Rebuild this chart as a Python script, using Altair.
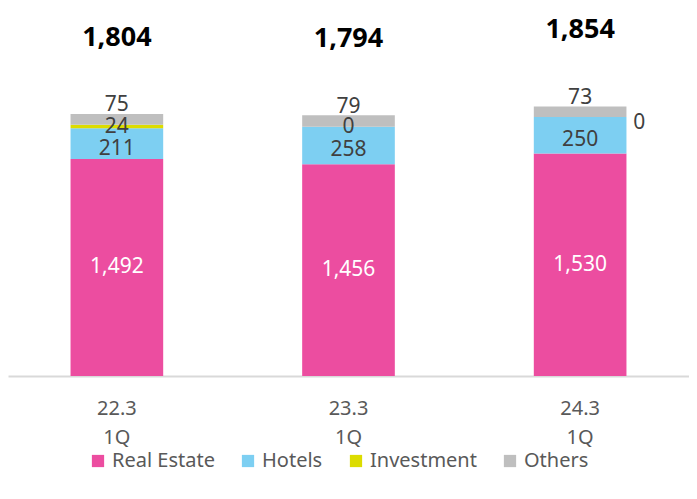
import altair as alt
import pandas as pd

categories = ["22.3 1Q", "23.3 1Q", "24.3 1Q"]
series = ["Real Estate", "Hotels", "Investment", "Others"]
real_estate = [1492, 1456, 1530]
hotels = [211, 258, 250]
investment = [24, 0, 0]
others = [75, 79, 73]
totals = [1804, 1794, 1854]
colors = ["#EC4DA0", "#7DCFF2", "#DCDC00", "#BFBFBF"]

values = {"Real Estate": real_estate, "Hotels": hotels,
          "Investment": investment, "Others": others}
rows = []
for i, c in enumerate(categories):
    cum = 0
    for j, s in enumerate(series):
        v = values[s][i]
        rows.append({"cat": c, "series": s, "value": v, "y0": cum,
                     "y1": cum + v, "mid": cum + v / 2, "order": j})
        cum += v
df = pd.DataFrame(rows)
tot = pd.DataFrame({"cat": categories, "total": totals})

FONT = "Noto Sans"
x_enc = alt.X("cat:N", sort=categories, title=None,
              scale=alt.Scale(paddingInner=0.6, paddingOuter=0.27),
              axis=alt.Axis(labelExpr="split(datum.label, ' ')", labelAngle=0,
                            labelFontSize=20, labelColor="#595959", labelFont=FONT,
                            labelLineHeight=29, labelPadding=22, ticks=False,
                            domainColor="#D9D9D9", domainWidth=2))
y_scale = alt.Scale(domain=[0, 2530])

base = alt.Chart(df)
bars = base.mark_bar().encode(
    x=x_enc,
    y=alt.Y("y0:Q", scale=y_scale, axis=None),
    y2="y1:Q",
    color=alt.Color("series:N", scale=alt.Scale(domain=series, range=colors),
                    legend=alt.Legend(title=None, orient="none", direction="horizontal",
                                      legendX=80, legendY=443,
                                      symbolType="square", symbolSize=150,
                                      symbolStrokeWidth=0, labelFontSize=20,
                                      labelFont=FONT, labelColor="#595959",
                                      columnPadding=23)),
)

def seg_text(cond, color, dx=0, dy=0):
    return base.transform_filter(cond).mark_text(
        font=FONT, fontSize=21, color=color, dx=dx, dy=dy).encode(
        x=alt.X("cat:N", sort=categories),
        y=alt.Y("mid:Q", scale=y_scale),
        text=alt.Text("value:Q", format=","))

re_lab = seg_text("datum.series == 'Real Estate'", "white")
ho_lab = seg_text("datum.series == 'Hotels'", "#404040", dy=5)
inv_lab = seg_text("datum.series == 'Investment' && datum.cat != '24.3 1Q'", "#404040")
inv_lab3 = seg_text("datum.series == 'Investment' && datum.cat == '24.3 1Q'", "#404040", dx=59, dy=6)
oth_lab = seg_text("datum.series == 'Others'", "#404040", dy=-14)

tot_lab = alt.Chart(tot).mark_text(font=FONT, fontSize=27, fontWeight="bold",
                                   color="#000000", dy=-76).encode(
    x=alt.X("cat:N", sort=categories),
    y=alt.Y("total:Q", scale=y_scale),
    text=alt.Text("total:Q", format=","))

chart = alt.layer(bars, re_lab, ho_lab, inv_lab, inv_lab3, oth_lab, tot_lab).properties(
    width=681, height=368,
    padding={"left": 0, "top": 0, "right": 0, "bottom": 12}
).configure_view(stroke=None)

chart.save("out.html", embed_options={"renderer": "svg", "actions": False})
